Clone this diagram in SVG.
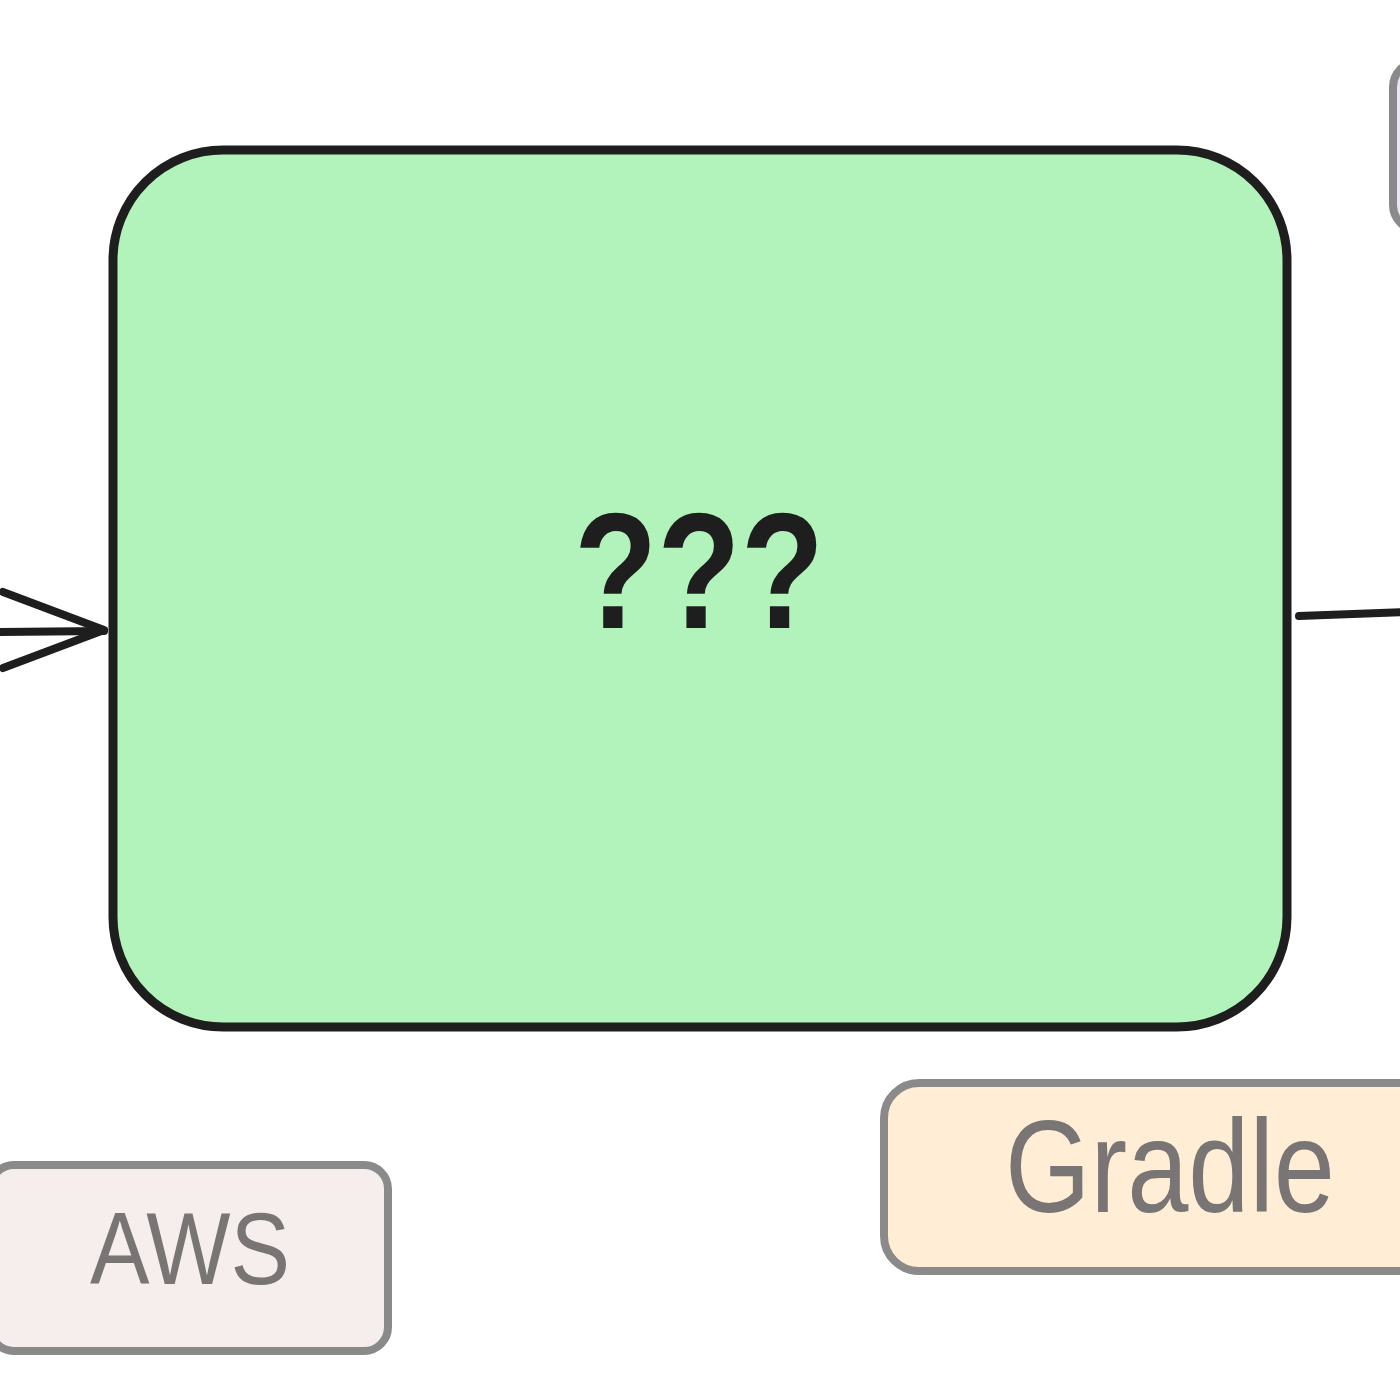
<svg xmlns="http://www.w3.org/2000/svg" width="1400" height="1400" viewBox="0 0 1400 1400">
<style>
.main{fill:#b2f2bb;stroke:#1e1e1e;stroke-width:9}
.tag{stroke:#8a8a8a;stroke-width:8}
.conn{stroke:#1e1e1e;stroke-width:8;stroke-linecap:round;fill:none}
.lbl{font-family:"Liberation Sans",Arial,sans-serif;fill:#7a7575;text-anchor:middle}
</style>
<rect width="1400" height="1400" fill="#ffffff"/>
<g id="node-partial">
<rect x="1393" y="62" width="80" height="168" rx="25" fill="#ebe6f4" class="tag"/>
</g>
<g id="node-main">
<rect x="113" y="150" width="1174" height="877" rx="110" class="main"/>
<text x="699" y="628" font-family="'Liberation Sans',Arial,sans-serif" font-weight="bold" font-size="165" fill="#1e1e1e" text-anchor="middle" textLength="250" lengthAdjust="spacingAndGlyphs">???</text>
</g>
<g id="node-aws">
<rect x="-10" y="1165" width="398" height="186" rx="24" fill="#f5eeec" class="tag"/>
<text x="190" y="1284" class="lbl" font-size="102" textLength="200" lengthAdjust="spacingAndGlyphs">AWS</text>
</g>
<g id="node-gradle">
<rect x="884" y="1083" width="560" height="188" rx="35" fill="#ffedd5" class="tag"/>
<text x="1170" y="1212" class="lbl" font-size="132" textLength="330" lengthAdjust="spacingAndGlyphs">Gradle</text>
</g>
<g id="connectors">
<line x1="-5" y1="632" x2="104" y2="631" class="conn"/>
<polyline points="3,592 104,630 3,668" class="conn" stroke-linejoin="round"/>
<line x1="1299" y1="616" x2="1405" y2="612" class="conn"/>
</g>
</svg>
